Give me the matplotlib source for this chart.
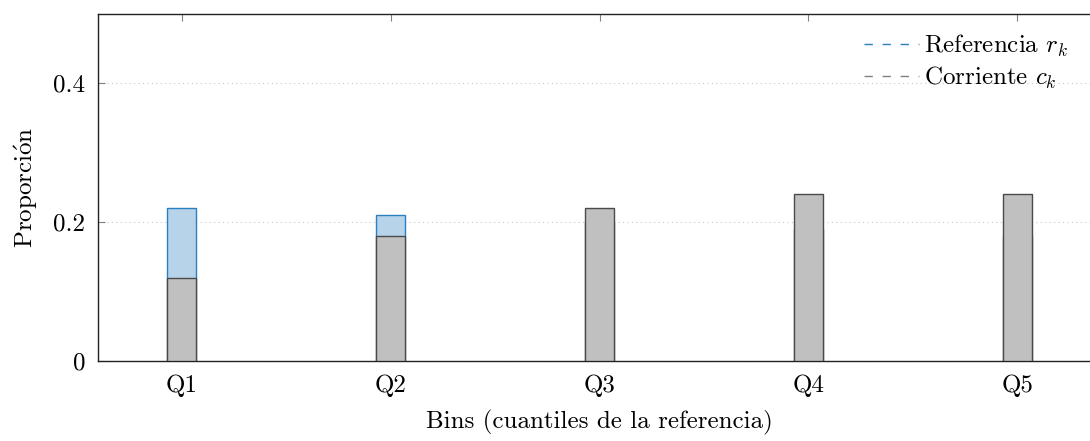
import matplotlib
matplotlib.use("Agg")
import matplotlib.pyplot as plt
from matplotlib.lines import Line2D

plt.rcParams['font.family'] = ['cmr10', 'DejaVu Serif']
plt.rcParams['mathtext.fontset'] = 'cm'
plt.rcParams['axes.unicode_minus'] = False

# proporciones por bin
bins = ['Q1', 'Q2', 'Q3', 'Q4', 'Q5']
referencia = [0.22, 0.21, 0.20, 0.19, 0.18]
corriente = [0.12, 0.18, 0.22, 0.24, 0.24]

x = list(range(1, len(bins) + 1))

fig = plt.figure(figsize=(10.9, 4.41), dpi=100)
ax = fig.add_axes([98 / 1090, 1 - 361 / 441, 1003 / 1090, 347 / 441])

w = 0.135
ax.bar(x, referencia, width=w, color='#b7d3ea', edgecolor='#2a7fc0', linewidth=1.0, zorder=2)
ax.bar(x, corriente, width=w, color='#c0c0c0', edgecolor='#4a4a4a', linewidth=1.0, zorder=3)

ax.set_xlim(0.6, 5.4)
ax.set_ylim(0, 0.5)
ax.set_xticks(x)
ax.set_xticklabels(bins)
ax.set_yticks([0, 0.2, 0.4])
ax.set_yticklabels(['0', '0.2', '0.4'])
ax.tick_params(direction='in', length=5, color='#808080', labelsize=18,
               top=True, right=False)
ax.tick_params(axis='x', pad=10)
ax.tick_params(axis='y', pad=9)
ax.grid(axis='y', linestyle=(0, (1, 3)), color='#c8c8c8', linewidth=0.8, zorder=0)
for s in ['left', 'top', 'bottom']:
    ax.spines[s].set_linewidth(1.0)
    ax.spines[s].set_color('#222222')
ax.spines['right'].set_visible(False)

ax.set_xlabel('Bins (cuantiles de la referencia)', fontsize=18, labelpad=9)
ax.set_ylabel(r'Proporci$\acute{\mathrm{o}}$n', fontsize=18, labelpad=10)

handles = [
    Line2D([], [], color='#2a7fc0', linestyle=(0, (6, 7)), linewidth=1.0),
    Line2D([], [], color='#808080', linestyle=(0, (6, 7)), linewidth=1.0),
]
ax.legend(handles, [r'Referencia $r_k$', r'Corriente $c_k$'], loc='upper right',
          bbox_to_anchor=(985 / 1003, 0.99), frameon=False, fontsize=18,
          handlelength=2.2, handletextpad=0.2, labelspacing=0.25, borderaxespad=0.2)

fig.savefig('out.png', dpi=100)
